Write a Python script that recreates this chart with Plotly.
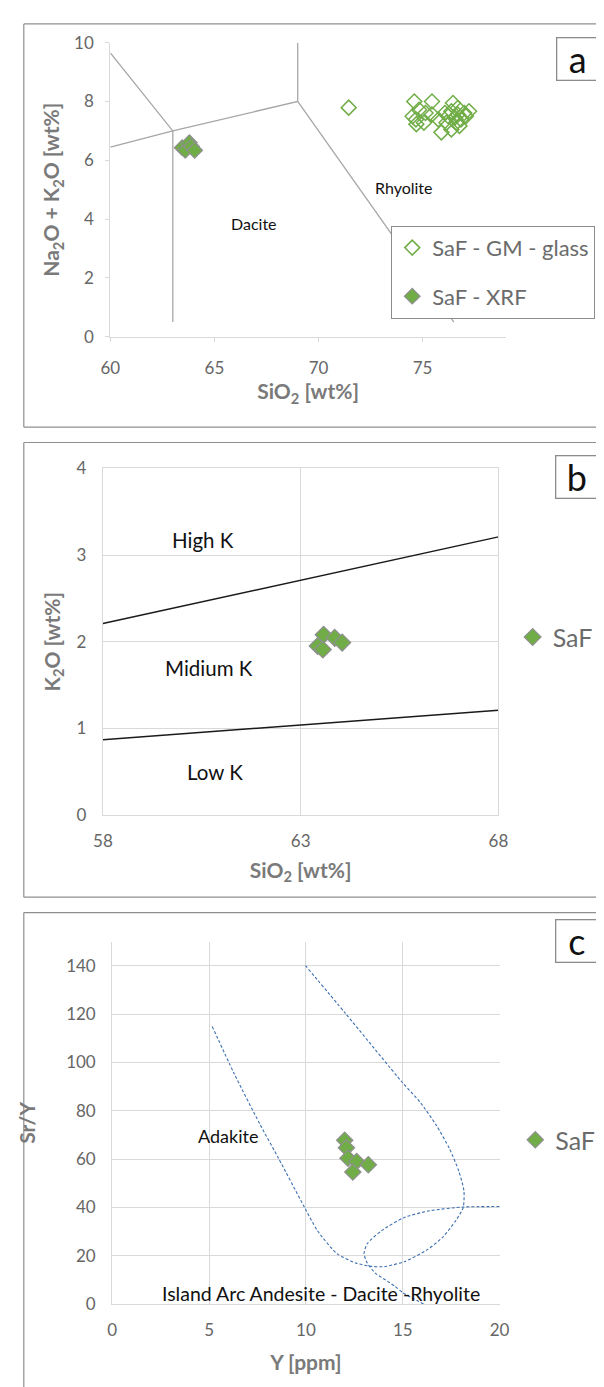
import plotly.graph_objects as go

W, H = 604, 1387
def px(x):
    return x / W
def py(y):
    return 1 - y / H

FONT = "Lato"
TICK_COL = "#666666"
TITLE_COL = "#7a7a7a"
GREEN = "#70AD47"
GRID = "#d9d9d9"

# ---------------- Panel a: TAS ----------------
glass_sio2 = [71.45, 74.60, 75.45, 74.83, 74.68, 75.06, 75.45, 75.14, 76.46, 76.69,
              77.00, 76.23, 75.90, 76.38, 76.07, 76.84, 77.08, 76.61, 76.77, 76.54,
              76.38, 75.76, 74.52, 77.23, 76.15, 76.69, 74.70]
glass_alk = [7.79, 8.00, 8.00, 7.72, 7.39, 7.28, 7.56, 7.61, 7.95, 7.78,
             7.61, 7.50, 6.95, 7.05, 7.61, 7.39, 7.50, 7.28, 7.17, 7.45,
             7.67, 7.39, 7.50, 7.67, 7.28, 7.56, 7.23]
xrf_sio2 = [63.45, 63.60, 63.80, 63.90, 64.05]
xrf_alk = [6.43, 6.34, 6.60, 6.47, 6.34]

tas_line1_x = [60, 63, 63]
tas_line1_y = [9.65, 7.0, 0.5]
tas_line2_x = [60, 63, 69, 69]
tas_line2_y = [6.45, 7.0, 8.0, 10.0]
tas_line3_x = [69, 76.5]
tas_line3_y = [8.0, 0.5]

tas_labels = ["Rhyolite", "Dacite"]
tas_label_x = [74.1, 66.9]
tas_label_y = [5.08, 3.86]

# ---------------- Panel b: K2O vs SiO2 ----------------
saf_b_sio2 = [63.58, 63.86, 64.05, 63.43, 63.56]
saf_b_k2o = [2.08, 2.045, 1.99, 1.95, 1.91]
highk_x = [58, 63, 68]
highk_y = [2.21, 2.71, 3.21]
lowk_x = [58, 63, 68]
lowk_y = [0.87, 1.04, 1.21]
k_labels = ["High K", "Midium K", "Low K"]
k_label_x = [60.53, 60.67, 60.83]
k_label_y = [3.17, 1.70, 0.50]

# ---------------- Panel c: Sr/Y vs Y ----------------
saf_c_y = [12.0, 12.09, 12.17, 12.62, 13.22, 12.42]
saf_c_sry = [67.8, 64.7, 60.4, 59.0, 57.7, 54.7]
adakite_x = [5.16, 6.28, 7.62, 8.58, 9.93, 10.59, 11.59, 12.59, 13.42, 14.08, 15.08,
             16.24, 17.07, 17.74, 18.12, 18.16, 17.90, 17.41, 16.74, 15.91, 14.99,
             12.04, 9.98]
adakite_y = [114.9, 95.6, 74.5, 60.4, 40.0, 30.5, 21.0, 17.0, 15.6, 15.6, 17.6,
             22.4, 27.8, 34.6, 40.0, 46.8, 54.9, 64.4, 73.9, 83.4, 91.6,
             120.3, 140.0]
adr_x = [20.0, 18.12, 16.41, 15.08, 13.92, 13.17, 13.0, 13.17, 13.58, 14.08, 14.58, 15.0, 16.1]
adr_y = [40.4, 40.2, 38.7, 35.9, 30.5, 25.1, 21.0, 17.0, 12.9, 10.2, 7.5, 4.8, 0.0]
c_labels = ["Adakite", "Island Arc Andesite - Dacite -Rhyolite"]
c_label_x = [5.99, 10.79]
c_label_y = [69.5, 4.5]
c_label_size = [18, 19.5]

fig = go.Figure()

# panel a traces
for lx, ly in [(tas_line1_x, tas_line1_y), (tas_line2_x, tas_line2_y), (tas_line3_x, tas_line3_y)]:
    fig.add_trace(go.Scatter(x=lx, y=ly, mode="lines", line=dict(color="#a6a6a6", width=1.3),
                             showlegend=False, hoverinfo="skip", xaxis="x", yaxis="y"))
fig.add_trace(go.Scatter(x=glass_sio2, y=glass_alk, mode="markers", name="SaF - GM - glass",
                         marker=dict(symbol="diamond-open", size=11.5, color=GREEN, line=dict(width=1.5, color=GREEN)),
                         xaxis="x", yaxis="y", legend="legend", legendgroup="g1"))
fig.add_trace(go.Scatter(x=xrf_sio2, y=xrf_alk, mode="markers", name="SaF - XRF",
                         marker=dict(symbol="diamond", size=12, color=GREEN, line=dict(width=1.2, color="#8f8f8f")),
                         xaxis="x", yaxis="y", legend="legend", legendgroup="g2"))

# panel b traces
for lx, ly in [(highk_x, highk_y), (lowk_x, lowk_y)]:
    fig.add_trace(go.Scatter(x=lx, y=ly, mode="lines", line=dict(color="#1a1a1a", width=1.5),
                             showlegend=False, hoverinfo="skip", xaxis="x2", yaxis="y2"))
fig.add_trace(go.Scatter(x=saf_b_sio2, y=saf_b_k2o, mode="markers", name="SaF",
                         marker=dict(symbol="diamond", size=13, color=GREEN, line=dict(width=1.2, color="#8f8f8f")),
                         xaxis="x2", yaxis="y2", legend="legend2"))

# panel c traces
for lx, ly in [(adakite_x, adakite_y), (adr_x, adr_y)]:
    fig.add_trace(go.Scatter(x=lx, y=ly, mode="lines",
                             line=dict(color="#3d6fb0", width=1.1, dash="3px,2px", shape="spline", smoothing=0.6),
                             showlegend=False, hoverinfo="skip", xaxis="x3", yaxis="y3"))
fig.add_trace(go.Scatter(x=saf_c_y, y=saf_c_sry, mode="markers", name="SaF",
                         marker=dict(symbol="diamond", size=12.5, color=GREEN, line=dict(width=1.2, color="#8f8f8f")),
                         xaxis="x3", yaxis="y3", legend="legend3"))

tickfont = dict(family=FONT, size=17, color=TICK_COL)
titlefont = dict(family=FONT, size=21, color=TITLE_COL)

layout = dict(
    width=W, height=H, autosize=False,
    margin=dict(l=0, r=0, t=0, b=0),
    paper_bgcolor="white", plot_bgcolor="white",
    font=dict(family=FONT),
    # panel a
    xaxis=dict(domain=[px(95.5), px(504.6)], range=[60, 79], tick0=60, dtick=5, anchor="y",
               showgrid=False, zeroline=False, showline=True, linecolor=GRID, linewidth=1.3,
               ticks="outside", ticklen=4, tickcolor=GRID, tickfont=tickfont, ticklabelstandoff=12,
               title=dict(text="<b>SiO<sub>2</sub> [wt%]</b>", font=titlefont, standoff=5)),
    yaxis=dict(domain=[py(322.7), py(24)], range=[0, 10], tick0=0, dtick=2, anchor="x",
               showgrid=False, zeroline=False, showline=True, linecolor=GRID, linewidth=1.3,
               ticks="outside", ticklen=4, tickcolor=GRID, tickfont=tickfont, ticklabelstandoff=8,
               title=dict(text="<b>Na<sub>2</sub>O + K<sub>2</sub>O [wt%]</b>", font=titlefont, standoff=8)),
    # panel b
    xaxis2=dict(domain=[px(87.8), px(496.9)], range=[58, 68], tick0=58, dtick=5, anchor="y2",
                showgrid=True, gridcolor=GRID, zeroline=False, showline=True, mirror=True, linecolor=GRID,
                linewidth=1.3, ticks="", tickfont=tickfont, ticklabelstandoff=10,
                title=dict(text="<b>SiO<sub>2</sub> [wt%]</b>", font=titlefont, standoff=13)),
    yaxis2=dict(domain=[py(808.3), py(456.3)], range=[0, 4], tick0=0, dtick=1, anchor="x2",
                showgrid=True, gridcolor=GRID, zeroline=False, showline=True, mirror=True, linecolor=GRID,
                linewidth=1.3, ticks="", tickfont=tickfont, ticklabelstandoff=12,
                title=dict(text="<b>K<sub>2</sub>O [wt%]</b>", font=titlefont, standoff=10)),
    # panel c
    xaxis3=dict(domain=[px(97.5), px(498.1)], range=[0, 20], tick0=0, dtick=5, anchor="y3",
                showgrid=True, gridcolor=GRID, zeroline=False, showline=True, linecolor=GRID,
                linewidth=1.3, ticks="", tickfont=tickfont, ticklabelstandoff=10,
                title=dict(text="<b>Y [ppm]</b>", font=titlefont, standoff=16)),
    yaxis3=dict(domain=[py(1305), py(936.7)], range=[0, 150], tick0=0, dtick=20, anchor="x3",
                showgrid=True, gridcolor=GRID, zeroline=False, showline=True, linecolor=GRID,
                linewidth=1.3, ticks="", tickfont=tickfont, ticklabelstandoff=12,
                title=dict(text="<b>Sr/Y</b>", font=titlefont, standoff=24)),
    legend=dict(x=px(386), y=py(210), xanchor="left", yanchor="top", bgcolor="white",
                bordercolor="#8c8c8c", borderwidth=1, tracegroupgap=17,
                font=dict(family=FONT, size=22, color="#6b6b6b")),
    legend2=dict(x=px(511.6), y=py(627.7), xanchor="left", yanchor="middle", bgcolor="rgba(0,0,0,0)",
                 borderwidth=0, font=dict(family=FONT, size=25, color="#6b6b6b")),
    legend3=dict(x=px(514.3), y=py(1138.3), xanchor="left", yanchor="middle", bgcolor="rgba(0,0,0,0)",
                 borderwidth=0, font=dict(family=FONT, size=25, color="#6b6b6b")),
)
fig.update_layout(**layout)

annotations = []
for t, x, y in zip(tas_labels, tas_label_x, tas_label_y):
    annotations.append(dict(text=t, x=x, y=y, xref="x", yref="y", showarrow=False,
                            font=dict(family=FONT, size=16, color="#111111")))
for t, x, y in zip(k_labels, k_label_x, k_label_y):
    annotations.append(dict(text=t, x=x, y=y, xref="x2", yref="y2", showarrow=False,
                            font=dict(family=FONT, size=20.5, color="#111111")))
for t, x, y, s in zip(c_labels, c_label_x, c_label_y, c_label_size):
    annotations.append(dict(text=t, x=x, y=y, xref="x3", yref="y3", showarrow=False,
                            font=dict(family=FONT, size=s, color="#111111")))

# panel letters in boxes
for letter, cx, cy in [("a", 579.2, 41.0), ("b", 578.2, 464.7), ("c", 578.2, 935.8)]:
    annotations.append(dict(text=letter, x=px(cx), y=py(cy), xref="paper", yref="paper",
                            xanchor="center", yanchor="middle", showarrow=False,
                            width=41, height=41, bordercolor="#8c8c8c", borderwidth=1.3, borderpad=0,
                            bgcolor="white", font=dict(family=FONT, size=36, color="#111111")))
fig.update_layout(annotations=annotations)

# panel frames
shapes = []
for top, bottom in [(5, 414.3), (430, 891.7), (907.3, 1400)]:
    shapes.append(dict(type="line", xref="paper", yref="paper", x0=px(6), x1=1.0, y0=py(top), y1=py(top),
                       line=dict(color="#8f8f8f", width=1.2)))
    shapes.append(dict(type="line", xref="paper", yref="paper", x0=px(6), x1=px(6), y0=py(top), y1=py(bottom),
                       line=dict(color="#8f8f8f", width=1.2)))
    if bottom < H:
        shapes.append(dict(type="line", xref="paper", yref="paper", x0=px(6), x1=1.0, y0=py(bottom), y1=py(bottom),
                           line=dict(color="#8f8f8f", width=1.2)))
fig.update_layout(shapes=shapes)

fig.write_html("out.html")
